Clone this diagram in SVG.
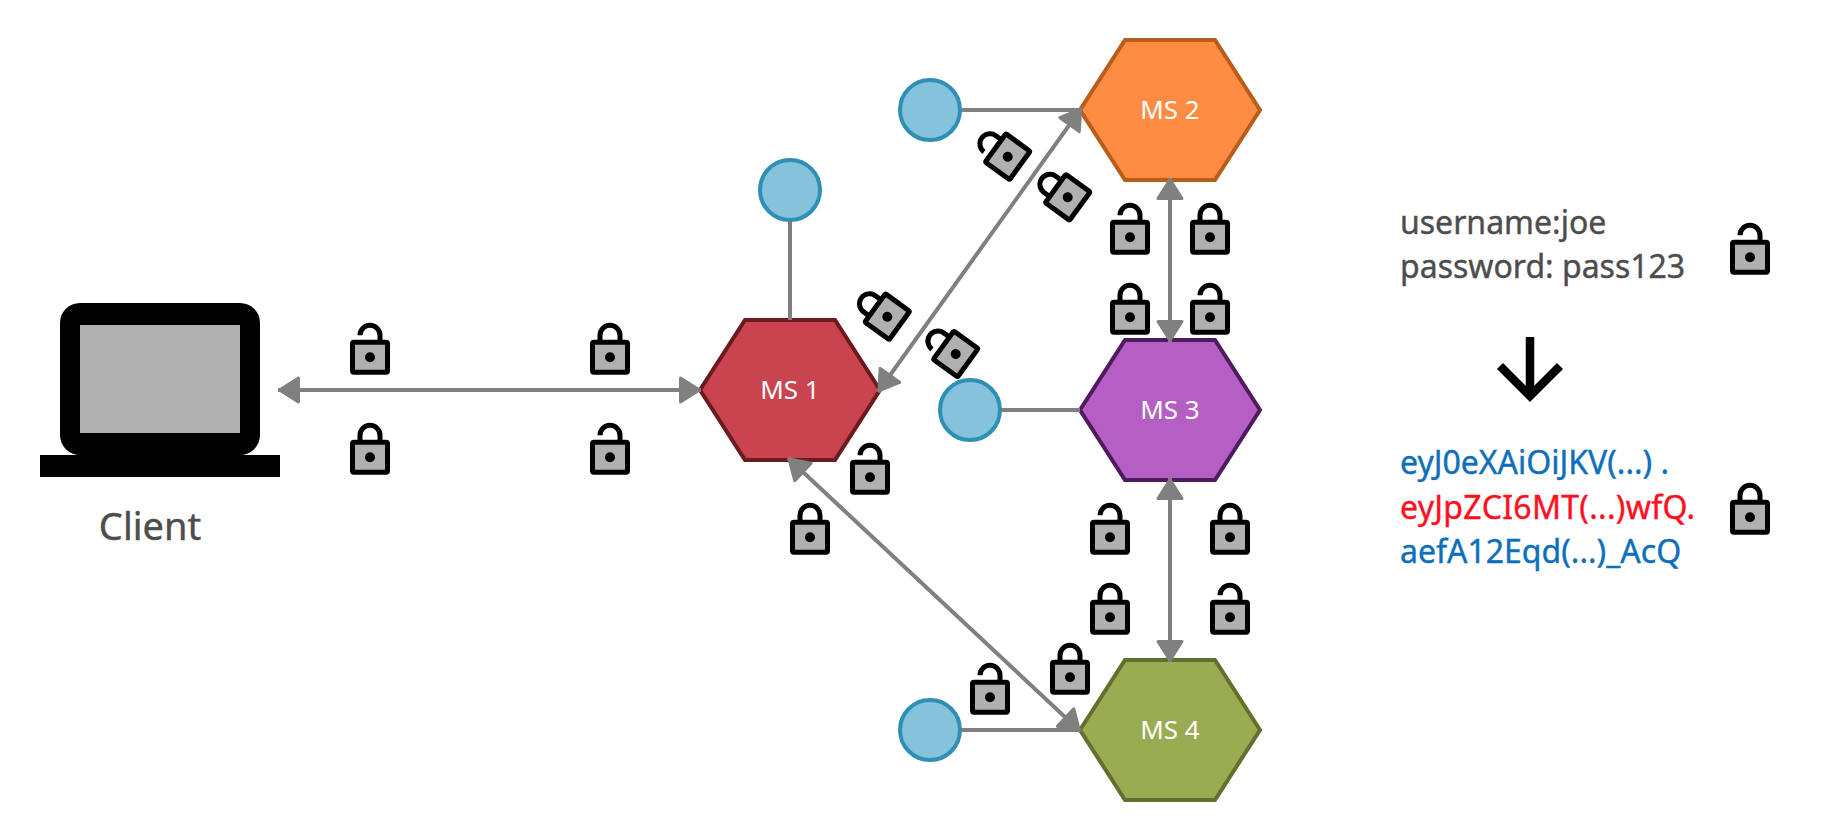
<svg xmlns="http://www.w3.org/2000/svg" width="1840" height="840" viewBox="0 0 1840 840">
<style>
text{font-family:"Noto Sans","Open Sans","Liberation Sans",sans-serif}
.conn{fill:none;stroke:#808080;stroke-width:4}
.arr{marker-start:url(#ah);marker-end:url(#ah)}
.hex{stroke-width:4;stroke-miterlimit:10}
.lbl{fill:#fff;font-size:26px;text-anchor:middle}
.c{fill:#85c2dc;stroke:#2f8fb5;stroke-width:4}
.t{font-size:32px;stroke-width:.4}
.g{fill:#4d4d4d;stroke:#4d4d4d}
.bl{fill:#0d6fbc;stroke:#0d6fbc}
.rd{fill:#ff0f1f;stroke:#ff0f1f;letter-spacing:.3px}
.body{fill:#b0b0b0;stroke:#000;stroke-width:5;stroke-linejoin:round}
.sh{fill:none;stroke:#000;stroke-width:5}
</style>
<defs>
<marker id="ah" markerUnits="userSpaceOnUse" markerWidth="30" markerHeight="34" refX="22.5" refY="15" orient="auto-start-reverse" viewBox="0 0 30 34"><path d="M2 3 L21 15 L2 27 Z" fill="#808080" stroke="#808080" stroke-width="3" stroke-linejoin="round"/></marker>
<g id="lc"><path class="sh" d="M-10 -15V-22A10 10 0 0 1 10 -22V-15"/><rect class="body" x="-17.5" y="-15" width="35" height="30" rx="1.5"/><circle r="5"/></g>
<g id="lo"><path class="sh" d="M-10 -22A10 10 0 0 1 10 -22V-15"/><rect class="body" x="-17.5" y="-15" width="35" height="30" rx="1.5"/><circle r="5"/></g>
</defs>
<g id="ms1"><path class="hex" d="M745 320H835L880 390L835 460H745L700 390Z" fill="#c9444f" stroke="#6b1a20"/><text class="lbl" x="790" y="399">MS 1</text></g>
<g id="ms2"><path class="hex" d="M1125 40H1215L1260 110L1215 180H1125L1080 110Z" fill="#ff8c42" stroke="#b85d1a"/><text class="lbl" x="1170" y="119">MS 2</text></g>
<g id="ms3"><path class="hex" d="M1125 340H1215L1260 410L1215 480H1125L1080 410Z" fill="#b55fc5" stroke="#4f1a5e"/><text class="lbl" x="1170" y="419">MS 3</text></g>
<g id="ms4"><path class="hex" d="M1125 660H1215L1260 730L1215 800H1125L1080 730Z" fill="#9aac52" stroke="#636f2e"/><text class="lbl" x="1170" y="739">MS 4</text></g>
<g id="connectors">
<path class="conn" d="M960 110H1080"/><path class="conn" d="M790 220V320"/><path class="conn" d="M1000 410H1080"/><path class="conn" d="M960 730H1080"/>
<path class="conn arr" d="M278 390H701"/>
<path class="conn arr" d="M878 392L1081.5 108"/>
<path class="conn arr" d="M788 458L1080.5 731.5"/>
<path class="conn arr" d="M1170 178V342"/>
<path class="conn arr" d="M1170 478V662"/>
</g>
<g id="svc1"><circle class="c" cx="790" cy="190" r="30"/></g>
<g id="svc2"><circle class="c" cx="930" cy="110" r="30"/></g>
<g id="svc3"><circle class="c" cx="970" cy="410" r="30"/></g>
<g id="svc4"><circle class="c" cx="930" cy="730" r="30"/></g>
<g id="client">
<rect x="60" y="303" width="200" height="152" rx="20"/>
<rect x="80" y="325" width="160" height="108" fill="#b0b0b0"/>
<rect x="40" y="455" width="240" height="22"/>
<text class="g" x="150" y="540" font-size="38" stroke-width=".4" text-anchor="middle">Client</text>
</g>
<g id="locks">
<use href="#lo" x="370" y="357.3"/><use href="#lc" x="370" y="457.3"/>
<use href="#lc" x="610" y="357.3"/><use href="#lo" x="610" y="457.3"/>
<use href="#lo" transform="translate(1007.7 156.7) rotate(-54)"/>
<use href="#lc" transform="translate(1067.7 197.3) rotate(-54)"/>
<use href="#lc" transform="translate(887.3 316.7) rotate(-54)"/>
<use href="#lo" transform="translate(955.7 354) rotate(-54)"/>
<use href="#lo" x="870" y="477.3"/><use href="#lc" x="810" y="537.3"/>
<use href="#lo" x="1110" y="537.3"/><use href="#lc" x="1230" y="537.3"/>
<use href="#lc" x="1110" y="617.3"/><use href="#lo" x="1230" y="617.3"/>
<use href="#lc" x="1070" y="677.3"/><use href="#lo" x="990" y="697.3"/>
<use href="#lo" x="1130" y="237.3"/><use href="#lc" x="1210" y="237.3"/>
<use href="#lc" x="1130" y="317.3"/><use href="#lo" x="1210" y="317.3"/>
<use href="#lo" x="1750" y="257.3"/><use href="#lc" x="1750" y="517.3"/>
</g>
<g id="notes">
<text class="t g" x="1400" y="234">username:joe</text>
<text class="t g" x="1400" y="278">password: pass123</text>
<path d="M1530 337V398M1500 366L1530 396L1560 366" fill="none" stroke="#000" stroke-width="8.5"/>
<text class="t bl" x="1400" y="474">eyJ0eXAiOiJKV(...) .</text>
<text class="t rd" x="1400" y="519">eyJpZCI6MT(...)wfQ.</text>
<text class="t bl" x="1400" y="563">aefA12Eqd(...)_AcQ</text>
</g>
</svg>
